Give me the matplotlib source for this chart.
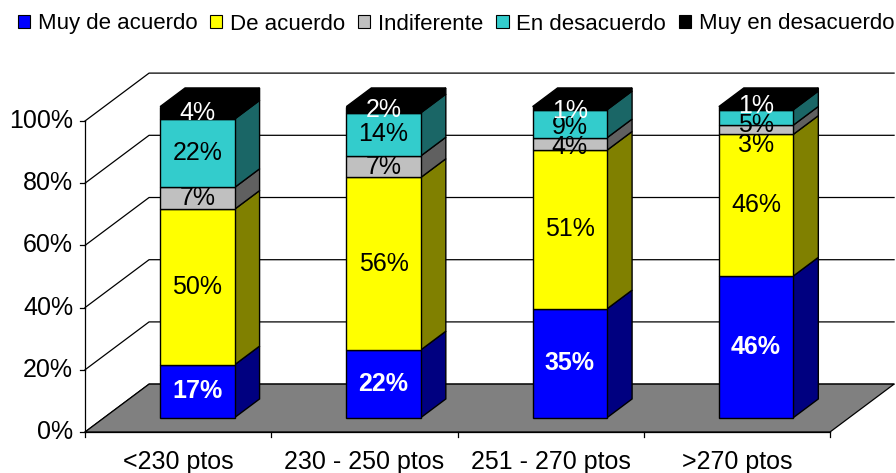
import numpy as np
import matplotlib.pyplot as plt
from matplotlib.patches import Polygon, Patch

categories = ['<230 ptos', '230 - 250 ptos', '251 - 270 ptos', '>270 ptos']
series = ['Muy de acuerdo', 'De acuerdo', 'Indiferente', 'En desacuerdo', 'Muy en desacuerdo']
muy_de_acuerdo = [17, 22, 35, 46]
de_acuerdo = [50, 56, 51, 46]
indiferente = [7, 7, 4, 3]
en_desacuerdo = [22, 14, 9, 5]
muy_en_desacuerdo = [4, 2, 1, 1]
yticks = [0, 20, 40, 60, 80, 100]

front_colors = ['#0000FF', '#FFFF00', '#C0C0C0', '#33CCCC', '#000000']
side_colors = ['#000080', '#808000', '#606060', '#1A6666', '#000000']
label_colors = ['white', 'black', 'black', 'black', 'white']
label_weights = ['bold', 'normal', 'normal', 'normal', 'normal']
# pixel nudges for crowded labels (bar, segment) -> dy
nudges = {(2, 2): -3, (2, 3): -3, (2, 4): -3,
          (3, 2): -15, (3, 3): -8, (3, 4): 2}

plt.rcParams['font.family'] = ['Liberation Sans', 'DejaVu Sans']

# oblique depth vector (data units) and bar depth span
DX, DY = 0.344, 15.4
Z0, Z1 = 0.3, 0.69
W = 0.4


def proj(x, y, z):
    return (x + z * DX, y + z * DY)


def main():
    values = np.array([muy_de_acuerdo, de_acuerdo, indiferente,
                       en_desacuerdo, muy_en_desacuerdo], dtype=float)
    pct = values / values.sum(axis=0) * 100
    n = len(categories)

    fig = plt.figure(figsize=(8.96, 4.73), dpi=100)
    ax = fig.add_axes([0, 0, 1, 1])
    ax.set_xlim(-85 / 186.25, (896 - 85) / 186.25)
    ax.set_ylim((432 - 473) / 3.11, 432 / 3.11)
    ax.axis('off')

    # side wall + back wall gridlines
    for v in yticks:
        pts = [proj(0, v, 0), proj(0, v, 1), proj(n, v, 1)]
        ax.plot([p[0] for p in pts], [p[1] for p in pts], color='black', lw=0.9, zorder=1)

    # floor
    floor = [proj(0, 0, 0), proj(n, 0, 0), proj(n, 0, 1), proj(0, 0, 1)]
    ax.add_patch(Polygon(floor, closed=True, facecolor='#808080', edgecolor='black', lw=0.9, zorder=2))

    # axes lines and ticks
    ax.plot([0, 0], [0, 100], color='black', lw=0.9, zorder=2)
    ax.plot([0, n], [0, 0], color='black', lw=0.9, zorder=2)
    for v in yticks:
        ax.plot([-0.027, 0], [v, v], color='black', lw=0.9, zorder=2)
        ax.text(-0.064, v, f'{v}%', ha='right', va='center', fontsize=18)
    for i in range(n + 1):
        ax.plot([i, i], [0, -1.6], color='black', lw=0.9, zorder=2)
    for i, cat in enumerate(categories):
        ax.text(i + 0.5, -9.6, cat, ha='center', va='center', fontsize=18)

    # bars
    for i in range(n):
        x0 = i + 0.5 - W / 2
        x1 = i + 0.5 + W / 2
        bottom = 0
        for s in range(len(series)):
            top = bottom + pct[s, i]
            face = [proj(x0, bottom, Z0), proj(x1, bottom, Z0), proj(x1, top, Z0), proj(x0, top, Z0)]
            sidef = [proj(x1, bottom, Z0), proj(x1, bottom, Z1), proj(x1, top, Z1), proj(x1, top, Z0)]
            ax.add_patch(Polygon(sidef, closed=True, facecolor=side_colors[s], edgecolor='black', lw=1.0, zorder=3))
            ax.add_patch(Polygon(face, closed=True, facecolor=front_colors[s], edgecolor='black', lw=1.0, zorder=4))
            cx, cy = proj(i + 0.5, (bottom + top) / 2, Z0)
            ax.annotate(f'{values[s, i]:.0f}%', (cx, cy), xytext=(0, nudges.get((i, s), 0) * 0.72),
                        textcoords='offset points', ha='center', va='center', fontsize=18,
                        color=label_colors[s], fontweight=label_weights[s], zorder=6)
            bottom = top
        topf = [proj(x0, 100, Z0), proj(x1, 100, Z0), proj(x1, 100, Z1), proj(x0, 100, Z1)]
        ax.add_patch(Polygon(topf, closed=True, facecolor=front_colors[-1], edgecolor='black', lw=1.0, zorder=4))

    handles = [Patch(facecolor=c, edgecolor='black', lw=0.8) for c in front_colors]
    ax.legend(handles, series, ncol=5, loc='center', bbox_to_anchor=(0.509, 1 - 24 / 473),
              bbox_transform=fig.transFigure, frameon=False, fontsize=16,
              handlelength=0.55, handleheight=0.55, handletextpad=0.35,
              columnspacing=0.58, borderaxespad=0, borderpad=0)

    fig.savefig('out.png', dpi=100)


if __name__ == '__main__':
    main()
